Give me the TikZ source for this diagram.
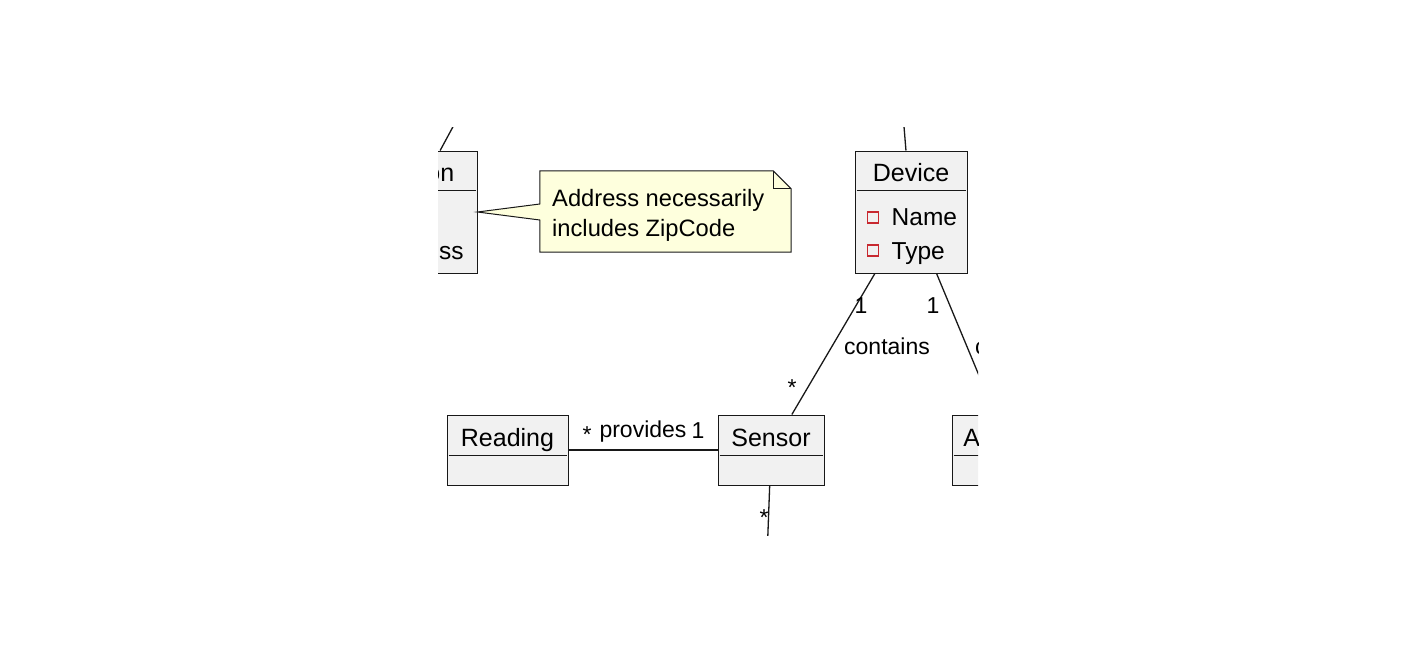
\documentclass[tikz,border=0pt]{standalone}
\usepackage{fontspec}
\setmainfont{Liberation Sans}
\usetikzlibrary{positioning, calc}
\definecolor{boxfill}{HTML}{F1F1F1}
\definecolor{boxline}{HTML}{181818}
\definecolor{notefill}{HTML}{FEFFDD}
\definecolor{privred}{HTML}{C82930}

\begin{document}
\begin{tikzpicture}[x=1pt, y=-1pt,
  classbox/.style={draw=boxline, fill=boxfill, line width=1pt, inner sep=0pt, rectangle},
  sepline/.style={draw=boxline, line width=1pt},
  classname/.style={font=\fontsize{25}{30}\selectfont, anchor=base, inner sep=0pt},
  attr/.style={font=\fontsize{24.5}{30}\selectfont, anchor=base west, inner sep=0pt},
  priv/.style={draw=privred, line width=1.1pt, minimum size=11pt, inner sep=0pt, rectangle},
  notetext/.style={font=\fontsize{23.7}{30}\selectfont, align=left, anchor=north west, inner sep=0pt},
  assoc/.style={draw=boxline, line width=1.3pt},
  lbl/.style={font=\fontsize{23}{27}\selectfont, anchor=base, inner sep=0pt}]

\useasboundingbox (0,0) rectangle (1416,664);
\begin{scope}
\clip (438,127) rectangle (978,535);

% classes
\node[classbox, minimum width=140pt, minimum height=122pt] (location) at (407,212) {};
\node[classbox, minimum width=112pt, minimum height=122pt] (device) at (911,212) {};
\node[classbox, minimum width=121pt, minimum height=70pt] (reading) at (507.5,450) {};
\node[classbox, minimum width=106pt, minimum height=70pt] (sensor) at (771,450) {};
\node[classbox, minimum width=116pt, minimum height=70pt] (actuator) at (1010,450) {};

\foreach \c/\d in {location/40, device/40, reading/41, sensor/41, actuator/41}
  \draw[sepline] ($(\c.north west)+(2,\d)$) -- ($(\c.north east)+(-2,\d)$);

\node[classname] (locationname) at ($(location.north)+(0,31)$) {Location};
\node[classname] (devicename) at ($(device.north)+(0,31)$) {Device};
\node[classname] (readingname) at ($(reading.north)+(0,32)$) {Reading};
\node[classname] (sensorname) at ($(sensor.north)+(0,32)$) {Sensor};
\node[classname] (actuatorname) at ($(actuator.north)+(0,32)$) {Actuator};

% attributes
\node[priv] (locaddricon) at ($(location.north west)+(18.5,100)$) {};
\node[attr] (locaddr) at ($(location.north west)+(37,109)$) {Address};
\node[priv] (devnameicon) at ($(device.north west)+(18.5,67)$) {};
\node[attr] (devname) at ($(device.north west)+(37,75)$) {Name};
\node[priv] (devtypeicon) at ($(device.north west)+(18.5,100)$) {};
\node[attr] (devtype) at ($(device.north west)+(37,109)$) {Type};

% note
\node[inner sep=0pt, minimum width=251pt, minimum height=81pt] (zipnote) at (665.5,211.5) {};
\draw[boxline, fill=notefill, line width=1pt]
  (zipnote.north west) -- ($(zipnote.north east)+(-18,0)$) -- ($(zipnote.north east)+(0,18)$)
  -- (zipnote.south east) -- (zipnote.south west) -- ($(zipnote.west)+(0,8.5)$)
  -- (location.east) -- ($(zipnote.west)+(0,-7.5)$) -- cycle;
\draw[boxline, line width=1pt] ($(zipnote.north east)+(-18,0)$) |- ($(zipnote.north east)+(0,18)$);
\node[notetext] (zipnotetext) at (552,189) {Address necessarily\\includes ZipCode};

% associations
\coordinate (deviceup) at (901,90);
\coordinate (locationup) at (488,62);
\coordinate (sensordown) at (766,585);
\draw[assoc] (device) -- (sensor);
\draw[assoc] (device) -- (actuator);
\draw[assoc] (reading) -- (sensor);
\draw[assoc] (device) -- (deviceup);
\draw[assoc] (location) -- (locationup);
\draw[assoc] (sensor) -- (sensordown);

\node[lbl] (provides) at (643,437) {provides};
\node[lbl] (readingmany) at (587,442) {*};
\node[lbl] (sensorone) at (698,438) {1};
\node[lbl] (contains) at (887,354) {contains};
\node[lbl] (devicecontone) at (861,313) {1};
\node[lbl] (sensormany) at (792,395) {*};
\node[lbl] (deviceactone) at (933,313) {1};
\node[lbl, anchor=base west] (controls) at (975,354) {controls};
\node[lbl] (sensordownmany) at (764,525) {*};
\end{scope}
\end{tikzpicture}
\end{document}
